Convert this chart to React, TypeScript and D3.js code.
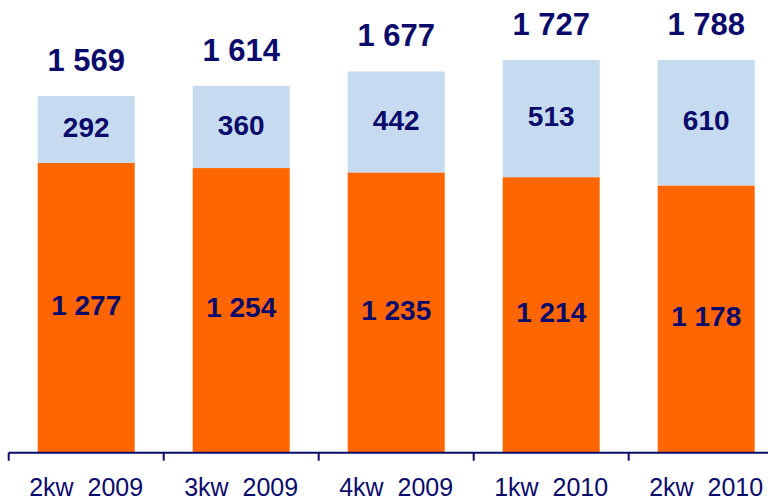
import React from "react";
import * as d3 from "d3";

const categories = ["2kw  2009", "3kw  2009", "4kw  2009", "1kw  2010", "2kw  2010"];
const baseValues = [1277, 1254, 1235, 1214, 1178];
const topValues = [292, 360, 442, 513, 610];
const totalLabels = ["1 569", "1 614", "1 677", "1 727", "1 788"];

const fmt = (v: number) => {
  const s = String(v);
  return s.length > 3 ? s.slice(0, s.length - 3) + " " + s.slice(-3) : s;
};

const W = 768;
const H = 499;
const NAVY = "#0b0b6b";
const ORANGE = "#FF6600";
const BLUE = "#C6DBEF";

export default function App() {
  const x = d3
    .scaleBand<string>()
    .domain(categories)
    .range([8.7, 783.7])
    .paddingInner(0.374)
    .paddingOuter(0.187);
  const y = d3.scaleLinear().domain([8, 1727]).range([452.7, 60]).clamp(true);
  const axisY = 452.7;
  const step = x.step();
  const bw = x.bandwidth();

  return (
    <svg
      width={W}
      height={H}
      style={{ position: "absolute", left: 0, top: 0, background: "#fff" }}
      fontFamily="'Liberation Sans', Arial, sans-serif"
    >
      {categories.map((c, i) => {
        const x0 = x(c)!;
        const b = baseValues[i];
        const t = topValues[i];
        const yBase0 = y(0);
        const yBase1 = y(b);
        const yTop1 = y(b + t);
        const cx = x0 + bw / 2;
        return (
          <g key={c}>
            <rect x={x0} y={yBase1} width={bw} height={yBase0 - yBase1} fill={ORANGE} />
            <rect x={x0} y={yTop1} width={bw} height={yBase1 - yTop1} fill={BLUE} />
            <text
              x={cx}
              y={(yBase0 + yBase1) / 2 + 7}
              textAnchor="middle"
              fontSize={28}
              fontWeight="bold"
              fill={NAVY}
            >
              {fmt(b)}
            </text>
            <text
              x={cx}
              y={(yBase1 + yTop1) / 2 + 7.7}
              textAnchor="middle"
              fontSize={28}
              fontWeight="bold"
              fill={NAVY}
            >
              {fmt(t)}
            </text>
            <text
              x={cx}
              y={yTop1 - 25}
              textAnchor="middle"
              fontSize={31}
              fontWeight="bold"
              fill={NAVY}
            >
              {totalLabels[i]}
            </text>
            <text
              x={cx}
              y={496}
              textAnchor="middle"
              fontSize={25}
              fill={NAVY}
              style={{ whiteSpace: "pre" }}
            >
              {c}
            </text>
          </g>
        );
      })}
      <line x1={8.7} x2={W} y1={axisY} y2={axisY} stroke={NAVY} strokeWidth={2} />
      {categories.map((c) => (
        <line
          key={"t" + c}
          x1={x(c)! - (step - bw) / 2}
          x2={x(c)! - (step - bw) / 2}
          y1={axisY}
          y2={axisY + 8}
          stroke={NAVY}
          strokeWidth={2}
        />
      ))}
    </svg>
  );
}
